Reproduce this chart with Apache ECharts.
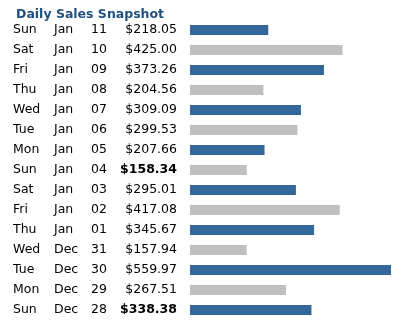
<!DOCTYPE html>
<html>
<head>
<meta charset="utf-8">
<script src="https://cdn.jsdelivr.net/npm/echarts@6/dist/echarts.min.js"></script>
<style>html,body{margin:0;padding:0;background:#fff}#c{width:404px;height:325px}</style>
</head>
<body>
<div id="c"></div>
<script>
const weekdays = ['Sun','Sat','Fri','Thu','Wed','Tue','Mon','Sun','Sat','Fri','Thu','Wed','Tue','Mon','Sun'];
const months = ['Jan','Jan','Jan','Jan','Jan','Jan','Jan','Jan','Jan','Jan','Jan','Dec','Dec','Dec','Dec'];
const dayNums = ['11','10','09','08','07','06','05','04','03','02','01','31','30','29','28'];
const sales = [218.05,425.00,373.26,204.56,309.09,299.53,207.66,158.34,295.01,417.08,345.67,157.94,559.97,267.51,338.38];
const boldRows = [7, 14];
const categories = weekdays.map((w,i) => i);

const font = 'DejaVu Sans, Verdana, sans-serif';
const chart = echarts.init(document.getElementById('c'));
chart.setOption({
  animation: false,
  title: {
    text: 'Daily Sales Snapshot',
    left: 11, top: 3,
    textStyle: {fontFamily: font, fontSize: 12.5, fontWeight: 'bold', color: '#1f5080'}
  },
  grid: {left: 190, top: 20, width: 201, height: 300},
  xAxis: {type: 'value', min: 0, max: 560, show: false},
  yAxis: {
    type: 'category', inverse: true, data: categories,
    axisLine: {show: false}, axisTick: {show: false}, splitLine: {show: false},
    axisLabel: {
      align: 'left', margin: 177, interval: 0,
      formatter: (v) => {
        const i = +v;
        const amt = '$' + sales[i].toFixed(2);
        const d = boldRows.includes(i) ? 'e' : 'd';
        return '{a|' + weekdays[i] + '}{b|' + months[i] + '}{c|' + dayNums[i] + '}{' + d + '|' + amt + '}';
      },
      rich: {
        a: {width: 41, fontFamily: font, fontSize: 12.5, color: '#000'},
        b: {width: 37, fontFamily: font, fontSize: 12.5, color: '#000'},
        c: {width: 20, fontFamily: font, fontSize: 12.5, color: '#000'},
        d: {width: 66, align: 'right', fontFamily: font, fontSize: 12.5, color: '#000'},
        e: {width: 66, align: 'right', fontFamily: font, fontSize: 12.5, fontWeight: 'bold', color: '#000'}
      }
    }
  },
  series: [{
    type: 'bar', data: sales, barWidth: 10,
    itemStyle: {color: (p) => p.dataIndex % 2 === 0 ? '#336699' : '#c0c0c0'}
  }]
});
</script>
</body>
</html>
